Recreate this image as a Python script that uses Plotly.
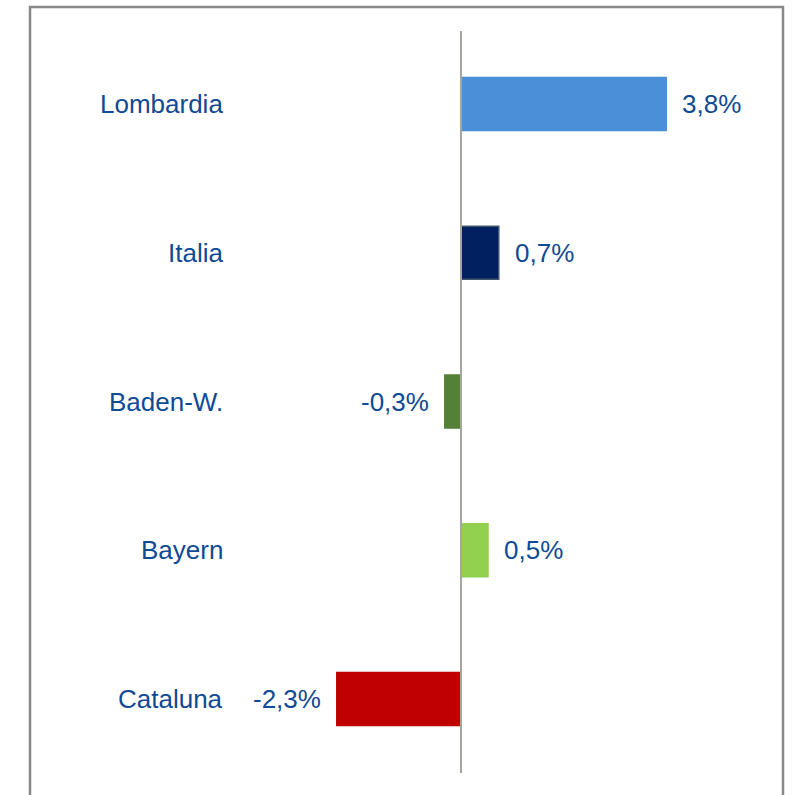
import plotly.graph_objects as go

categories = ["Lombardia", "Italia", "Baden-W.", "Bayern", "Cataluna"]
values = [3.8, 0.7, -0.3, 0.5, -2.3]
labels = ["3,8%", "0,7%", "-0,3%", "0,5%", "-2,3%"]
colors = ["#4A90D9", "#002060", "#538135", "#92D050", "#C00000"]
line_colors = ["#4A90D9", "#44546A", "#538135", "#92D050", "#C00000"]

W, H = 792, 795
zero_px = 461
px_per_unit = 54.0
top_center = 104
spacing = 148.75

text_color = "#0F4A94"
font_family = "Liberation Sans, Arial, sans-serif"

fig = go.Figure()
fig.add_trace(go.Bar(
    y=list(range(len(categories))),
    x=values,
    orientation="h",
    width=0.355,
    marker=dict(color=colors, line=dict(color=line_colors, width=1.5)),
    hoverinfo="skip",
))

annotations = []
for i, (c, v, t) in enumerate(zip(categories, values, labels)):
    annotations.append(dict(
        x=224.5 / W, xref="paper", y=i, yref="y", text=c, showarrow=False,
        xanchor="right", yanchor="middle",
        font=dict(size=26, color=text_color, family=font_family),
    ))
    annotations.append(dict(
        x=v, xref="x", y=i, yref="y", text=t, showarrow=False,
        xanchor="left" if v >= 0 else "right", yanchor="middle",
        xshift=14 if v >= 0 else -14,
        font=dict(size=26, color=text_color, family=font_family),
    ))

x_left = -zero_px / px_per_unit
x_right = (W - zero_px) / px_per_unit
y_top = -top_center / spacing
y_bottom = (H - top_center) / spacing

fig.update_layout(
    width=W, height=H,
    margin=dict(l=0, r=0, t=0, b=0),
    paper_bgcolor="white", plot_bgcolor="white",
    showlegend=False,
    bargap=0,
    xaxis=dict(range=[x_left, x_right], visible=False, showgrid=False, zeroline=False),
    yaxis=dict(range=[y_bottom, y_top], visible=False, showgrid=False, zeroline=False),
    annotations=annotations,
    shapes=[
        dict(type="line", xref="x", yref="paper", x0=0, x1=0,
             y0=1 - 773 / H, y1=1 - 31 / H,
             line=dict(color="#A6A69E", width=2), layer="above"),
        dict(type="rect", xref="paper", yref="paper",
             x0=30 / W, x1=783 / W, y0=-0.05, y1=1 - 7 / H,
             line=dict(color="#888888", width=2.5), layer="above"),
    ],
)

fig.write_html(
    "out.html",
    config={"displayModeBar": False, "staticPlot": True},
    post_script="document.body.style.margin='0';document.body.style.overflow='hidden';",
)
